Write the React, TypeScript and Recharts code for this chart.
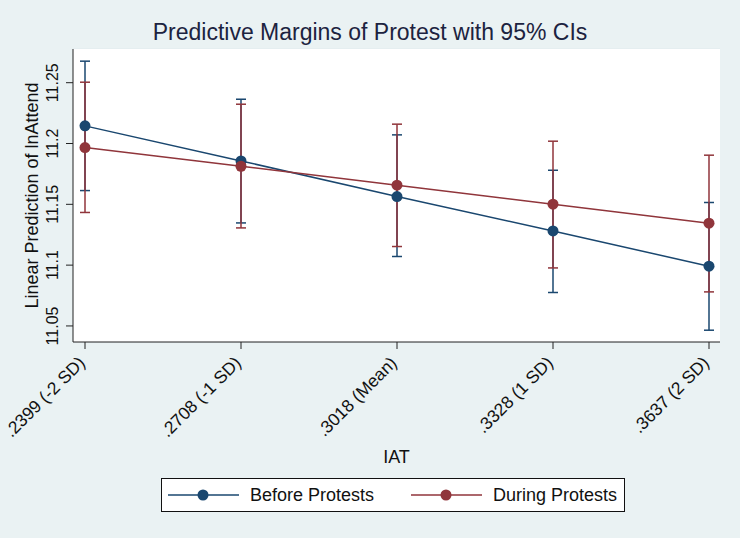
import React from "react";
import {
  LineChart,
  Line,
  XAxis,
  YAxis,
  CartesianGrid,
  ErrorBar,
  Legend,
  Label,
} from "recharts";

// IAT levels on the x axis
const categories = [
  ".2399 (-2 SD)",
  ".2708 (-1 SD)",
  ".3018 (Mean)",
  ".3328 (1 SD)",
  ".3637 (2 SD)",
];

// Before protests: margin and 95% CI
const before = [11.2145, 11.1857, 11.1564, 11.1281, 11.0991];
const beforeLow = [11.1613, 11.1347, 11.1071, 11.0775, 11.0465];
const beforeHigh = [11.2677, 11.2364, 11.2071, 11.178, 11.1515];

// During protests: margin and 95% CI
const during = [11.1967, 11.1813, 11.1657, 11.1501, 11.1345];
const duringLow = [11.1433, 11.1306, 11.1153, 11.0977, 11.078];
const duringHigh = [11.2504, 11.2323, 11.2159, 11.2019, 11.1904];

const yTicks = [11.05, 11.1, 11.15, 11.2, 11.25];

const NAVY = "#1a476f";
const MAROON = "#90353b";
const BG = "#eaf2f3";
const FONT = "Arial, 'Liberation Sans', Helvetica, sans-serif";

const data = categories.map((iat, i) => ({
  iat,
  before: before[i],
  beforeErr: [before[i] - beforeLow[i], beforeHigh[i] - before[i]],
  during: during[i],
  duringErr: [during[i] - duringLow[i], duringHigh[i] - during[i]],
}));

const YTick = (props: any) => {
  const { x, y, payload } = props;
  return (
    <text
      x={x}
      y={y}
      transform={`rotate(-90 ${x} ${y})`}
      textAnchor="middle"
      fontSize={16}
      fontFamily={FONT}
      fill="#111"
    >
      {payload.value}
    </text>
  );
};

const XTick = (props: any) => {
  const { x, y, payload } = props;
  const tx = x + 1;
  const ty = y + 13;
  return (
    <text
      x={tx}
      y={ty}
      transform={`rotate(-45 ${tx} ${ty})`}
      textAnchor="end"
      fontSize={17.5}
      fontFamily={FONT}
      fill="#111"
    >
      {payload.value}
    </text>
  );
};

const LegendBox = (props: any) => {
  const items = (props.payload || []).filter((p: any) => p.type !== "none");
  return (
    <div
      style={{
        position: "relative",
        width: 464,
        height: 34,
        boxSizing: "border-box",
        border: "1px solid #111",
        background: "#fff",
        fontFamily: FONT,
        fontSize: 18,
        color: "#111",
      }}
    >
      {items.map((it: any, i: number) => (
        <div
          key={it.value}
          style={{
            position: "absolute",
            left: 6 + i * 243,
            top: 0,
            height: 32,
            display: "flex",
            alignItems: "center",
          }}
        >
          <svg width={71} height={14}>
            <line x1={0} y1={7} x2={71} y2={7} stroke={it.color} strokeWidth={1.5} />
            <circle cx={35} cy={7} r={5.5} fill={it.color} />
          </svg>
          <span style={{ marginLeft: 11, whiteSpace: "nowrap" }}>{it.value}</span>
        </div>
      ))}
    </div>
  );
};

export default function App() {
  return (
    <div
      style={{
        position: "absolute",
        left: 0,
        top: 0,
        width: 740,
        height: 538,
        background: BG,
      }}
    >
      <div
        style={{
          position: "absolute",
          top: 19,
          left: 0,
          width: 740,
          textAlign: "center",
          fontFamily: FONT,
          fontSize: 23,
          color: "#1c2340",
        }}
      >
        Predictive Margins of Protest with 95% CIs
      </div>
      <LineChart
        width={740}
        height={538}
        data={data}
        margin={{ top: 49, right: 20, left: 0, bottom: 71 }}
      >
        <rect x={73} y={49} width={647} height={293} fill="#fff" />
        <CartesianGrid vertical={false} stroke="#e1ebed" strokeWidth={1} />
        <XAxis
          dataKey="iat"
          interval={0}
          padding={{ left: 12, right: 11 }}
          height={125}
          tickSize={7}
          tickLine={{ stroke: "#222" }}
          axisLine={{ stroke: "#222" }}
          tick={<XTick />}
        >
          <Label
            value="IAT"
            position="insideBottom"
            offset={4}
            style={{ fontSize: 18, fontFamily: FONT, fill: "#111" }}
          />
        </XAxis>
        <YAxis
          width={73}
          domain={[11.0368, 11.2777]}
          ticks={yTicks}
          allowDataOverflow
          tickSize={7}
          tickMargin={8}
          tickLine={{ stroke: "#222" }}
          axisLine={{ stroke: "#222" }}
          tick={<YTick />}
        >
          <Label
            content={(p: any) => {
              const vb = p.viewBox;
              const cx = 38;
              const cy = vb.y + vb.height / 2;
              return (
                <text
                  x={cx}
                  y={cy}
                  transform={`rotate(-90 ${cx} ${cy})`}
                  textAnchor="middle"
                  fontSize={18}
                  fontFamily={FONT}
                  fill="#111"
                >
                  Linear Prediction of lnAttend
                </text>
              );
            }}
          />
        </YAxis>
        {/* confidence intervals drawn first, below the lines */}
        <Line
          dataKey="before"
          stroke="none"
          dot={false}
          activeDot={false}
          legendType="none"
          isAnimationActive={false}
        >
          <ErrorBar dataKey="beforeErr" width={5} stroke={NAVY} strokeWidth={1.5} />
        </Line>
        <Line
          dataKey="during"
          stroke="none"
          dot={false}
          activeDot={false}
          legendType="none"
          isAnimationActive={false}
        >
          <ErrorBar dataKey="duringErr" width={5} stroke={MAROON} strokeWidth={1.5} />
        </Line>
        <Line
          dataKey="before"
          name="Before Protests"
          stroke={NAVY}
          strokeWidth={1.5}
          dot={{ r: 5.5, fill: NAVY, stroke: NAVY, strokeWidth: 0 }}
          activeDot={false}
          isAnimationActive={false}
        />
        <Line
          dataKey="during"
          name="During Protests"
          stroke={MAROON}
          strokeWidth={1.5}
          dot={{ r: 5.5, fill: MAROON, stroke: MAROON, strokeWidth: 0 }}
          activeDot={false}
          isAnimationActive={false}
        />
        <Legend
          layout="horizontal"
          verticalAlign="middle"
          align="center"
          content={<LegendBox />}
          wrapperStyle={{ left: 161, top: 478, width: 464, height: 34 }}
        />
      </LineChart>
    </div>
  );
}
